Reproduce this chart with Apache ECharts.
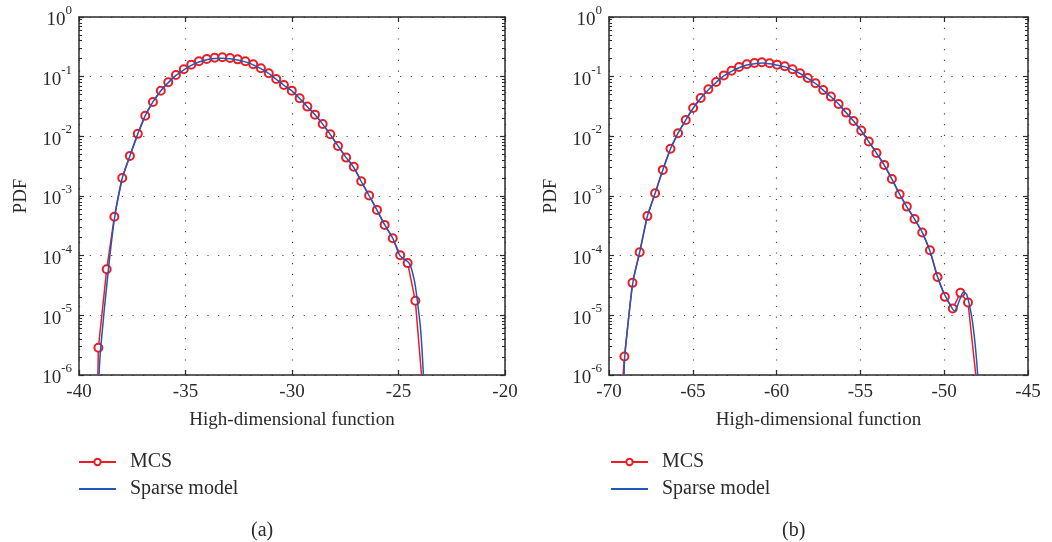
<!DOCTYPE html>
<html><head><meta charset="utf-8">
<script src="https://cdn.jsdelivr.net/npm/echarts@6/dist/echarts.min.js"></script>
<style>html,body{margin:0;padding:0;background:#fff}#c{width:1052px;height:542px}</style>
</head><body><div id="c"></div>
<script>
const seriesNames = ['MCS', 'Sparse model'];
const panelCaptions = ['(a)', '(b)'];
const xAxisTitle = 'High-dimensional function';
const yAxisTitle = 'PDF';
const xRangeA = [-40, -20];
const xRangeB = [-70, -45];
const xStep = 5;
const yRange = [1e-6, 1];
const yDecades = [-6, -5, -4, -3, -2, -1, 0];

// Panel (a): MCS markers
const mcsA = [
  [-39.09, 2.86e-6], [-38.70, 5.9e-5], [-38.34, 4.5e-4], [-37.97, 2.0e-3], [-37.61, 4.7e-3],
  [-37.24, 0.011], [-36.89, 0.0222], [-36.53, 0.0377], [-36.16, 0.058], [-35.81, 0.0805],
  [-35.45, 0.107], [-35.08, 0.133], [-34.73, 0.159], [-34.37, 0.181], [-34.00, 0.198],
  [-33.63, 0.208], [-33.27, 0.211], [-32.91, 0.206], [-32.55, 0.195], [-32.19, 0.181],
  [-31.82, 0.161], [-31.46, 0.138], [-31.09, 0.114], [-30.74, 0.0915], [-30.38, 0.0726],
  [-30.01, 0.0583], [-29.64, 0.0435], [-29.28, 0.0315], [-28.92, 0.0231], [-28.56, 0.0161],
  [-28.20, 0.0108], [-27.84, 0.0069], [-27.46, 0.0044], [-27.10, 0.0031], [-26.75, 0.00177],
  [-26.38, 0.00102], [-26.01, 5.85e-4], [-25.65, 3.28e-4], [-25.27, 1.96e-4], [-24.92, 1.02e-4],
  [-24.57, 7.5e-5], [-24.21, 1.75e-5]
];
const mcsATail = [[-39.13, 5e-7], [-23.85, 5e-7]];
// Panel (a): sparse model curve
const sparseA = [
  [-39.08, 5e-7], [-39.06, 1e-6], [-38.98, 2.9e-6], [-38.62, 5.9e-5], [-38.32, 4.5e-4],
  [-37.97, 2.0e-3], [-37.61, 4.7e-3], [-37.24, 0.011], [-36.89, 0.0222], [-36.53, 0.0377],
  [-36.16, 0.058], [-35.81, 0.0795], [-35.45, 0.105], [-35.08, 0.130], [-34.73, 0.155],
  [-34.37, 0.176], [-34.00, 0.192], [-33.63, 0.201], [-33.27, 0.204], [-32.91, 0.200],
  [-32.55, 0.190], [-32.19, 0.177], [-31.82, 0.158], [-31.46, 0.136], [-31.09, 0.113],
  [-30.74, 0.0905], [-30.38, 0.0718], [-30.01, 0.0577], [-29.64, 0.0432], [-29.28, 0.0313],
  [-28.92, 0.0229], [-28.56, 0.016], [-28.20, 0.0107], [-27.84, 0.0069], [-27.46, 0.0044],
  [-27.10, 0.0030], [-26.75, 0.00175], [-26.38, 0.00101], [-26.01, 5.8e-4], [-25.65, 3.3e-4],
  [-25.27, 1.96e-4], [-24.93, 1.0e-4], [-24.50, 7.5e-5], [-24.26, 3.9e-5], [-24.12, 1.8e-5],
  [-23.96, 5.7e-6], [-23.83, 1e-6], [-23.80, 5e-7]
];

// Panel (b): MCS markers
const mcsB = [
  [-69.08, 2.04e-6], [-68.60, 3.5e-5], [-68.17, 1.14e-4], [-67.71, 4.6e-4], [-67.25, 1.11e-3],
  [-66.79, 2.74e-3], [-66.33, 6.2e-3], [-65.88, 0.0113], [-65.42, 0.0188], [-64.98, 0.0299],
  [-64.53, 0.044], [-64.07, 0.0615], [-63.61, 0.0815], [-63.15, 0.105], [-62.69, 0.126],
  [-62.24, 0.145], [-61.78, 0.161], [-61.32, 0.169], [-60.88, 0.174], [-60.42, 0.168],
  [-59.97, 0.159], [-59.51, 0.149], [-59.05, 0.133], [-58.60, 0.114], [-58.14, 0.095],
  [-57.68, 0.0775], [-57.22, 0.0599], [-56.76, 0.0463], [-56.30, 0.0349], [-55.85, 0.025],
  [-55.41, 0.0181], [-54.95, 0.0125], [-54.50, 0.00817], [-54.04, 0.00527], [-53.58, 0.00332],
  [-53.12, 0.00193], [-52.66, 0.00107], [-52.23, 6.64e-4], [-51.77, 4.13e-4], [-51.31, 2.45e-4],
  [-50.85, 1.23e-4], [-50.40, 4.4e-5], [-49.96, 2.04e-5], [-49.49, 1.3e-5], [-49.03, 2.38e-5],
  [-48.58, 1.64e-5]
];
const mcsBTail = [[-69.20, 7e-7], [-48.0, 5e-7]];
// Panel (b): sparse model curve
const sparseB = [
  [-69.12, 5e-7], [-69.10, 1e-6], [-69.06, 2.04e-6], [-68.58, 3.5e-5], [-68.17, 1.14e-4],
  [-67.71, 4.6e-4], [-67.25, 1.11e-3], [-66.79, 2.74e-3], [-66.33, 6.2e-3], [-65.88, 0.0113],
  [-65.42, 0.0188], [-64.98, 0.0296], [-64.53, 0.0435], [-64.07, 0.0605], [-63.61, 0.080],
  [-63.15, 0.103], [-62.69, 0.123], [-62.24, 0.141], [-61.78, 0.157], [-61.32, 0.165],
  [-60.88, 0.169], [-60.42, 0.164], [-59.97, 0.156], [-59.51, 0.146], [-59.05, 0.131],
  [-58.60, 0.113], [-58.14, 0.094], [-57.68, 0.0768], [-57.22, 0.0594], [-56.76, 0.046],
  [-56.30, 0.0347], [-55.85, 0.0249], [-55.41, 0.018], [-54.95, 0.0124], [-54.50, 0.0081],
  [-54.04, 0.00523], [-53.58, 0.0033], [-53.12, 0.00192], [-52.66, 0.00107], [-52.23, 6.6e-4],
  [-51.77, 4.1e-4], [-51.31, 2.45e-4], [-50.85, 1.2e-4], [-50.42, 4.6e-5], [-50.00, 2.3e-5],
  [-49.70, 1.6e-5], [-49.39, 1.18e-5], [-49.05, 1.9e-5], [-48.85, 2.45e-5], [-48.66, 2.25e-5],
  [-48.36, 9.4e-6], [-48.16, 3.4e-6], [-48.00, 1e-6], [-47.97, 5e-7]
];

const RED = '#ec1c24';
const BLUE = '#1f58b8';
const INK = '#2a2a2a';
const FONT = "'Liberation Serif', 'DejaVu Serif', serif";

const minorTicks = [];
yDecades.slice(0, -1).forEach(d => { for (let k = 2; k <= 9; k++) minorTicks.push(d + Math.log10(k)); });

function mcsData(pts, tail) {
  return [{ value: tail[0], symbol: 'none' }].concat(pts.map(p => ({ value: p })), [{ value: tail[1], symbol: 'none' }]);
}

const grids = [
  { left: 79, top: 17, width: 426, height: 358 },
  { left: 609, top: 17, width: 419, height: 358 }
];
const ranges = [xRangeA, xRangeB];
const xAxes = [], yAxes = [];
ranges.forEach((r, g) => {
  const lineStyle = { color: INK, width: 1.5 };
  xAxes.push({
    type: 'value', gridIndex: g, min: r[0], max: r[1], interval: xStep, position: 'bottom',
    axisLine: { show: true, onZero: false, lineStyle },
    axisTick: { show: true, inside: true, length: 5, lineStyle: { color: INK, width: 1.2 } },
    axisLabel: { fontFamily: FONT, fontSize: 19, color: INK, margin: 8 },
    splitLine: { show: true, lineStyle: { color: '#444', width: 1.2, type: [1.2, 9.5] } },
    name: xAxisTitle, nameLocation: 'middle', nameGap: 36,
    nameTextStyle: { fontFamily: FONT, fontSize: 19, color: INK }
  });
  xAxes.push({
    type: 'value', gridIndex: g, min: r[0], max: r[1], interval: xStep, position: 'top',
    axisLine: { show: true, onZero: false, lineStyle },
    axisTick: { show: true, inside: true, length: 5, lineStyle: { color: INK, width: 1.2 } },
    axisLabel: { show: false }, splitLine: { show: false }
  });
  const labelRich = {
    b: { fontFamily: FONT, fontSize: 19, color: INK, padding: [7, 0, 0, 0] },
    s: { fontFamily: FONT, fontSize: 13, color: INK, verticalAlign: 'top' }
  };
  yAxes.push({
    type: 'log', logBase: 10, gridIndex: g, min: yRange[0], max: yRange[1], interval: 1, position: 'left',
    axisLine: { show: true, onZero: false, lineStyle },
    axisTick: { show: true, inside: true, length: 5, lineStyle: { color: INK, width: 1.2 } },
    axisLabel: {
      margin: 7,
      formatter: v => '{b|10}{s|' + Math.round(Math.log10(v)) + '}',
      rich: labelRich
    },
    splitLine: { show: true, lineStyle: { color: '#444', width: 1.2, type: [1.2, 9.5] } },
    name: yAxisTitle, nameLocation: 'middle', nameGap: 48, nameRotate: 90,
    nameTextStyle: { fontFamily: FONT, fontSize: 19, color: INK }
  });
  ['left', 'right'].forEach(pos => {
    yAxes.push({
      type: 'value', gridIndex: g, min: yDecades[0], max: yDecades[yDecades.length - 1], position: pos,
      axisLine: { show: false },
      axisTick: { show: true, inside: true, length: 3, customValues: minorTicks, lineStyle: { color: INK, width: 1 } },
      axisLabel: { show: false }, splitLine: { show: false }
    });
  });
  yAxes.push({
    type: 'log', logBase: 10, gridIndex: g, min: yRange[0], max: yRange[1], interval: 1, position: 'right',
    axisLine: { show: true, onZero: false, lineStyle },
    axisTick: { show: true, inside: true, length: 5, lineStyle: { color: INK, width: 1.2 } },
    axisLabel: { show: false }, splitLine: { show: false }
  });
});

const mcsSets = [[mcsA, mcsATail], [mcsB, mcsBTail]];
const sparseSets = [sparseA, sparseB];
const series = [];
[0, 1].forEach(g => {
  series.push({
    name: seriesNames[0], type: 'line', xAxisIndex: g * 2, yAxisIndex: g * 4,
    data: mcsData(mcsSets[g][0], mcsSets[g][1]),
    symbol: 'emptyCircle', symbolSize: 8, showAllSymbol: true, clip: true,
    lineStyle: { color: RED, width: 1.5 }, itemStyle: { color: RED, borderWidth: 1.4 }, z: 2
  });
  series.push({
    name: seriesNames[1], type: 'line', xAxisIndex: g * 2, yAxisIndex: g * 4,
    data: sparseSets[g], symbol: 'none', smooth: 0.3, clip: true,
    lineStyle: { color: BLUE, width: 1.5 }, itemStyle: { color: 'rgba(0,0,0,0)', borderColor: 'rgba(0,0,0,0)' }, z: 3
  });
});

const legendBase = {
  orient: 'vertical', itemWidth: 37, itemHeight: 8, itemGap: 7,
  textStyle: { fontFamily: FONT, fontSize: 20, color: INK, padding: [0, 0, 0, 9] },
  data: seriesNames, selectedMode: false
};

const chart = echarts.init(document.getElementById('c'), null, { renderer: 'canvas' });
chart.setOption({
  animation: false,
  backgroundColor: '#fff',
  title: [
    { text: panelCaptions[0], left: 246, top: 516, textStyle: { fontFamily: FONT, fontSize: 20, fontWeight: 'normal', color: INK } },
    { text: panelCaptions[1], left: 777, top: 516, textStyle: { fontFamily: FONT, fontSize: 20, fontWeight: 'normal', color: INK } }
  ],
  legend: [
    Object.assign({}, legendBase, { left: 73, top: 447 }),
    Object.assign({}, legendBase, { left: 605, top: 447 })
  ],
  grid: grids,
  xAxis: xAxes,
  yAxis: yAxes,
  series
});
</script>
</body></html>
